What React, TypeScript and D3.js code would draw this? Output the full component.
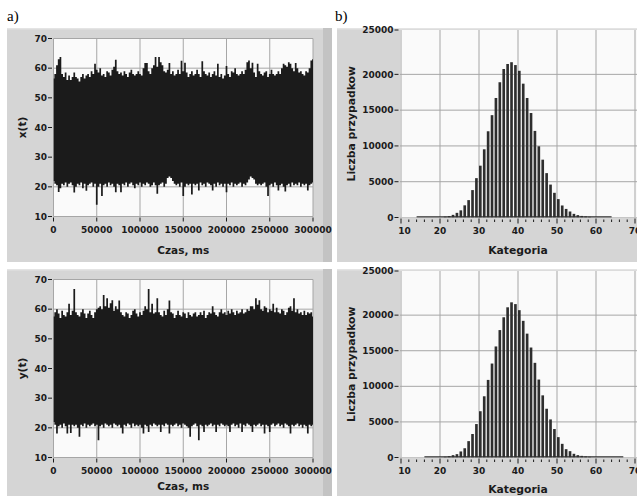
import React from "react";
import * as d3 from "d3";

// ---------- data ----------
const timeTicks = [0, 50000, 100000, 150000, 200000, 250000, 300000];
const valueTicks = [10, 20, 30, 40, 50, 60, 70];
const categoryTicks = [10, 20, 30, 40, 50, 60, 70];
const countTicks = [0, 5000, 10000, 15000, 20000];
const countTopLabel = "25000";
const sampleTimes = d3.range(0, 300001, 2000);

// x(t): per-sample max / min envelope
const xUpper = [
  56.5, 58, 61, 63, 63.8, 58, 57, 58.5, 56, 57.5,
  56, 57, 58.5, 57, 56.5, 55.5, 57, 58, 56.5, 57.5,
  58, 57, 59, 58, 61.5, 59.5, 58.5, 60, 57.5, 58,
  57, 59, 58.5, 57.5, 59.5, 60.5, 62.8, 59, 58, 58.5,
  57.5, 59, 58, 57, 58.5, 59.5, 58, 57.5, 58, 59,
  58, 57.5, 60, 61.7, 61.7, 59, 58, 60, 61, 63.8,
  60.5, 63.8, 62, 61, 59, 58.5, 59.5, 61.7, 58, 59,
  57.5, 58, 59.5, 58, 62.5, 59, 61.8, 58.5, 57, 58,
  59, 57.5, 58, 59.5, 58, 57, 62.3, 59, 58, 57.5,
  58.5, 57, 58, 59, 57.5, 61.5, 57, 58, 56.5, 57.5,
  60.7, 58, 57, 59, 58.5, 60, 58, 57.5, 58, 59,
  58, 59.5, 62, 62.6, 60, 61.8, 58.5, 57, 61.5, 59,
  58, 57.5, 58.5, 59, 57, 58, 59.5, 58, 57.5, 58,
  59, 58, 60, 61.5, 61, 60.5, 62, 61.5, 60, 59,
  61.7, 60, 58.5, 59, 58, 57.5, 59, 58.5, 60, 62.6, 63,
];
const xLower = [
  22, 21, 20.5, 18.3, 19.5, 21, 20.5, 21.5, 20, 21,
  21.5, 20.5, 18.1, 20, 21, 20.5, 21.5, 19.5, 21, 18.7,
  20.5, 21, 21.5, 20, 21, 14, 20, 21, 16.9, 20.5,
  21, 20, 21.5, 20.5, 21, 20, 18.2, 21, 20.5, 18.2,
  21, 20.5, 21.5, 20, 21, 21.5, 20.5, 19.5, 21, 20.5,
  21.5, 20, 21, 20.5, 21.5, 21, 20, 20.5, 21.5, 20.5,
  17.7, 20.5, 21, 21.5, 20, 21, 23, 23.5, 23, 22,
  21, 20.5, 21, 20, 21.5, 16.9, 20, 21, 20.5, 21,
  17.4, 21, 20.5, 21, 18.8, 21.5, 20.5, 21, 20, 21.5,
  21, 20.5, 18.8, 21, 20, 21.5, 20.5, 21, 20, 21,
  18.2, 21, 20.5, 21.5, 20, 21, 20.5, 21, 21.5, 20,
  21, 20.5, 21.5, 22.5, 23.5, 23, 22.5, 21, 20.5, 21,
  20.5, 21, 21.5, 20, 16.9, 20.5, 21, 20, 21.5, 20.5,
  18.8, 20.5, 21, 20, 18.4, 20.5, 21, 20, 21.5, 20.5,
  21, 20.5, 21.5, 20, 21, 20.5, 21, 18.8, 20.5, 21, 21.5,
];
// y(t): per-sample max / min envelope
const yUpper = [
  57.5, 59, 60, 58.5, 57, 59.5, 58, 57.5, 59, 61.8,
  58, 59.5, 66.8, 59, 58, 57.5, 59, 60, 58.5, 57,
  58.5, 59.5, 58, 57, 59, 60, 60.5, 61, 60, 64.8,
  61, 63.7, 60.5, 62, 63, 59.5, 61, 60, 62.9, 59,
  58, 57.5, 59, 58.5, 57, 58, 59.5, 60, 58.5, 57.5,
  59, 58, 59.5, 61, 60, 66.8, 59, 61.8, 58.5, 59,
  63.7, 59, 58, 57.5, 59.5, 58, 60, 62.9, 59, 58.5,
  57, 58, 59.5, 58, 57.5, 59, 58.5, 57, 59, 58,
  57.5, 58.5, 59, 57.5, 58, 59, 58, 59.5, 57, 58,
  59, 58.5, 61, 59, 58, 57.5, 59, 60, 58.5, 59,
  58, 59.5, 58.5, 60, 59, 58, 59.5, 58.5, 59, 60,
  58.5, 59, 60, 59.5, 61, 61, 60, 63.7, 61.5, 63,
  60, 59.5, 61, 60.5, 59, 60, 59.5, 61.8, 59, 60.5,
  59, 58.5, 60, 59.5, 58, 59, 60.5, 61, 59.5, 63.7,
  59, 60, 58.5, 59, 58, 59.5, 58, 59, 58.5, 59, 57.5,
];
const yLower = [
  22, 21, 18.1, 20.5, 21, 20, 21.5, 20.5, 18.1, 21,
  18.3, 21, 20.5, 21, 20, 17, 21, 20.5, 21.5, 20,
  21, 20.5, 21, 21.5, 20.5, 21, 15.8, 20.5, 21, 20,
  21.5, 21, 20.5, 21, 20, 21.5, 21, 20.5, 21, 20,
  18.1, 21, 20.5, 21.5, 21, 20, 21.5, 20.5, 21, 20.5,
  21, 20, 18.1, 21, 20.5, 18.6, 21, 20.5, 21.5, 21,
  20.5, 21, 18.6, 21, 20.5, 21.5, 21, 18.1, 21, 20.5,
  21, 21.5, 20.5, 21, 20, 21.5, 21, 20.5, 20, 17,
  20.5, 21, 21.5, 20.5, 15.8, 21, 20.5, 18.6, 21, 20.5,
  21, 21.5, 20.5, 21, 18.6, 21, 20.5, 21.5, 21, 20.5,
  21, 20.5, 18.6, 21, 21.5, 20.5, 21, 20, 21.5, 18.6,
  21, 20.5, 21.5, 21, 20.5, 18.6, 21, 20.5, 21, 21.5,
  20.5, 21, 18.1, 21, 20.5, 18.6, 21, 21.5, 20.5, 21,
  21.5, 20.5, 21, 20, 21.5, 21, 20.5, 18.1, 21, 20.5,
  21, 21.5, 20.5, 21, 20, 21, 20.5, 18.1, 21, 20.5, 21,
];

// histogram of x(t)
const histXCategories = [
  14, 15, 16, 17, 18, 19, 20, 21, 22, 23, 24, 25, 26, 27, 28, 29, 30, 31, 32, 33,
  34, 35, 36, 37, 38, 39, 40, 41, 42, 43, 44, 45, 46, 47, 48, 49, 50, 51, 52, 53,
  54, 55, 56, 57, 58, 59, 60, 61, 62, 63,
];
const histXCounts = [
  0, 0, 0, 0, 0, 0, 0, 120, 200, 370, 650, 1000, 1700, 2430, 3830, 5500, 7240, 9530, 12050, 14300,
  16700, 18900, 20750, 21450, 21700, 21300, 20500, 18700, 16700, 14600, 12100, 9950, 8080, 6200, 4600, 3450, 2570, 1680, 1200, 840,
  510, 330, 220, 150, 100, 0, 0, 0, 0, 0,
];
// histogram of y(t)
const histYCategories = [
  16, 17, 18, 19, 20, 21, 22, 23, 24, 25, 26, 27, 28, 29, 30, 31, 32, 33, 34, 35,
  36, 37, 38, 39, 40, 41, 42, 43, 44, 45, 46, 47, 48, 49, 50, 51, 52, 53, 54, 55,
  56, 57, 58, 59, 60, 61, 62, 63, 64, 65, 66,
];
const histYCounts = [
  0, 0, 0, 0, 0, 100, 190, 330, 470, 850, 1300, 2300, 3300, 4700, 6500, 8600, 10900, 13200, 15600, 17900,
  19700, 21100, 21800, 21550, 20700, 19200, 17400, 15450, 13300, 10950, 8730, 6850, 5350, 4000, 2860, 1920, 1170, 890, 520, 330,
  230, 150, 100, 0, 0, 0, 0, 0, 0, 0, 0,
];

// ---------- styling ----------
const FONT = "'DejaVu Sans', Verdana, sans-serif";
const PANEL = "#d5d5d5";
const PLOTBG = "#fafafa";
const GRID = "#a6a6a6";
const INK = "#1b1b1b";
const BAR = "#2e2e2e";

type Box = { left: number; right: number; top: number; bottom: number };

function PanelBg({ p }: { p: Box }) {
  return (
    <g>
      <rect x={p.left} y={p.top} width={p.right - p.left} height={p.bottom - p.top} fill={PANEL} />
      <rect x={p.left} y={p.top} width={p.right - p.left} height={1.5} fill="#e4e4e4" />
    </g>
  );
}

function TimePanel({
  panel, plot, upper, lower, ylabel, titleDy, id,
}: { panel: Box; plot: Box; upper: number[]; lower: number[]; ylabel: string; titleDy: number; id: string }) {
  const x = d3.scaleLinear().domain([0, 300000]).range([plot.left, plot.right]);
  const y = d3.scaleLinear().domain([10, 70]).range([plot.bottom, plot.top]);
  const area = d3
    .area<number>()
    .x((_, i) => x(sampleTimes[i]))
    .y0((_, i) => y(lower[i]))
    .y1((d) => y(d))
    .curve(d3.curveStep);
  return (
    <g>
      <PanelBg p={panel} />
      <rect x={panel.right - 9} y={panel.top} width={9} height={panel.bottom - panel.top} fill="#c3c3c3" />
      <rect x={plot.left} y={plot.top} width={plot.right - plot.left} height={plot.bottom - plot.top} fill={PLOTBG} />
      <clipPath id={id}>
        <rect x={plot.left} y={plot.top} width={plot.right - plot.left} height={plot.bottom - plot.top} />
      </clipPath>
      {valueTicks.map((v) => (
        <line key={"h" + v} x1={plot.left} x2={plot.right} y1={y(v)} y2={y(v)} stroke={GRID} strokeWidth={1} />
      ))}
      {timeTicks.map((t) => (
        <line key={"v" + t} x1={x(t)} x2={x(t)} y1={plot.top} y2={plot.bottom} stroke={GRID} strokeWidth={1} />
      ))}
      <path d={area(upper) || ""} fill={INK} clipPath={`url(#${id})`} />
      {valueTicks.map((v) => (
        <g key={"yt" + v}>
          <line x1={plot.left - 5.5} x2={plot.left - 1.5} y1={y(v)} y2={y(v)} stroke={INK} strokeWidth={1} />
          <text x={plot.left - 6.5} y={y(v)} dy="0.35em" textAnchor="end" fontSize={9} fontWeight="bold" fontFamily={FONT} fill={INK}>
            {v}
          </text>
        </g>
      ))}
      {timeTicks.map((t) => (
        <g key={"xt" + t}>
          <line x1={x(t)} x2={x(t)} y1={plot.bottom + 1} y2={plot.bottom + 5} stroke={INK} strokeWidth={1} />
          <text x={x(t)} y={plot.bottom + 16.5} textAnchor="middle" fontSize={9} fontWeight="bold" fontFamily={FONT} fill={INK}>
            {t}
          </text>
        </g>
      ))}
      <text
        transform={`translate(${panel.left + 19},${(plot.top + plot.bottom) / 2}) rotate(-90)`}
        textAnchor="middle" fontSize={10.5} fontWeight="bold" fontFamily={FONT} fill={INK}
      >
        {ylabel}
      </text>
      <text x={(plot.left + plot.right) / 2} y={plot.bottom + titleDy} textAnchor="middle" fontSize={10.5} fontWeight="bold" fontFamily={FONT} fill={INK}>
        Czas, ms
      </text>
    </g>
  );
}

function HistPanel({
  panel, plot, cats, counts, titleDy, id,
}: { panel: Box; plot: Box; cats: number[]; counts: number[]; titleDy: number; id: string }) {
  const x = d3.scaleLinear().domain([10, 70]).range([plot.left + 1, 635]);
  const y = d3.scaleLinear().domain([0, 26200]).range([plot.bottom, plot.top]);
  const minorTicks = d3.range(10, 71, 2).filter((v) => v % 10 !== 0);
  const barW = x(10.68) - x(10);
  return (
    <g>
      <PanelBg p={panel} />
      <rect x={plot.left} y={plot.top} width={plot.right - plot.left} height={plot.bottom - plot.top} fill={PLOTBG} />
      <clipPath id={id}>
        <rect x={plot.left} y={plot.top} width={plot.right - plot.left} height={plot.bottom - plot.top} />
      </clipPath>
      <g clipPath={`url(#${id})`}>
        {countTicks.map((v) => (
          <line key={"h" + v} x1={plot.left} x2={plot.right} y1={y(v)} y2={y(v)} stroke={GRID} strokeWidth={1} />
        ))}
        {categoryTicks.map((v) => (
          <line key={"v" + v} x1={x(v)} x2={x(v)} y1={plot.top} y2={plot.bottom} stroke={GRID} strokeWidth={1} />
        ))}
        <line x1={x(cats[0])} x2={x(cats[cats.length - 1] + 1)} y1={y(0) - 0.5} y2={y(0) - 0.5} stroke={BAR} strokeWidth={1.5} />
        {cats.map((c, i) =>
          counts[i] > 0 ? (
            <rect key={"b" + c} x={x(c)} y={y(counts[i])} width={barW} height={y(0) - y(counts[i])} fill={BAR} />
          ) : null
        )}
      </g>
      {countTicks.map((v) => (
        <g key={"yt" + v}>
          <line x1={plot.left - 5.5} x2={plot.left - 1.5} y1={y(v)} y2={y(v)} stroke={INK} strokeWidth={1} />
          <text x={plot.left - 6.5} y={y(v)} dy="0.35em" textAnchor="end" fontSize={9} fontWeight="bold" fontFamily={FONT} fill={INK}>
            {v}
          </text>
        </g>
      ))}
      <line x1={plot.left - 5.5} x2={plot.left - 1.5} y1={plot.top} y2={plot.top} stroke={INK} strokeWidth={1} />
      <text x={plot.left - 6.5} y={plot.top} dy="0.35em" textAnchor="end" fontSize={9} fontWeight="bold" fontFamily={FONT} fill={INK}>
        {countTopLabel}
      </text>
      {categoryTicks.map((v) => (
        <g key={"xt" + v}>
          <line x1={x(v)} x2={x(v)} y1={plot.bottom + 1} y2={plot.bottom + 6} stroke={INK} strokeWidth={1} />
          <text x={x(v) + (v === 10 ? 3.5 : 0)} y={plot.bottom + 16.5} textAnchor="middle" fontSize={9} fontWeight="bold" fontFamily={FONT} fill={INK}>
            {v}
          </text>
        </g>
      ))}
      {minorTicks.map((v) => (
        <line key={"m" + v} x1={x(v)} x2={x(v)} y1={plot.bottom + 2} y2={plot.bottom + 4.5} stroke={INK} strokeWidth={1} />
      ))}
      <text
        transform={`translate(${panel.left + 18},${(plot.top + plot.bottom) / 2}) rotate(-90)`}
        textAnchor="middle" fontSize={10.8} fontWeight="bold" fontFamily={FONT} fill={INK}
      >
        Liczba przypadkow
      </text>
      <text x={x(40)} y={plot.bottom + titleDy} textAnchor="middle" fontSize={10.8} fontWeight="bold" fontFamily={FONT} fill={INK}>
        Kategoria
      </text>
    </g>
  );
}

export default function App() {
  return (
    <svg width={637} height={496} style={{ position: "absolute", left: 0, top: 0, background: "#fff" }}>
      <rect width={637} height={496} fill="#fff" />
      <text x={7} y={21} fontSize={15} fontFamily="'Liberation Serif', 'Times New Roman', serif" fill="#000">a)</text>
      <text x={335} y={21} fontSize={15} fontFamily="'Liberation Serif', 'Times New Roman', serif" fill="#000">b)</text>
      <TimePanel
        id="c1"
        panel={{ left: 7, right: 332, top: 28, bottom: 262 }}
        plot={{ left: 53.5, right: 313, top: 38.5, bottom: 216.5 }}
        upper={xUpper} lower={xLower} ylabel="x(t)" titleDy={37} />
      <TimePanel
        id="c2"
        panel={{ left: 7, right: 332, top: 269, bottom: 496 }}
        plot={{ left: 53.5, right: 313, top: 279.5, bottom: 457.5 }}
        upper={yUpper} lower={yLower} ylabel="y(t)" titleDy={32.5} />
      <HistPanel
        id="c3"
        panel={{ left: 337, right: 637, top: 28, bottom: 262 }}
        plot={{ left: 400, right: 637, top: 30, bottom: 217.5 }}
        cats={histXCategories} counts={histXCounts} titleDy={36} />
      <HistPanel
        id="c4"
        panel={{ left: 337, right: 637, top: 269, bottom: 496 }}
        plot={{ left: 400, right: 637, top: 271, bottom: 457.5 }}
        cats={histYCategories} counts={histYCounts} titleDy={35} />
    </svg>
  );
}
